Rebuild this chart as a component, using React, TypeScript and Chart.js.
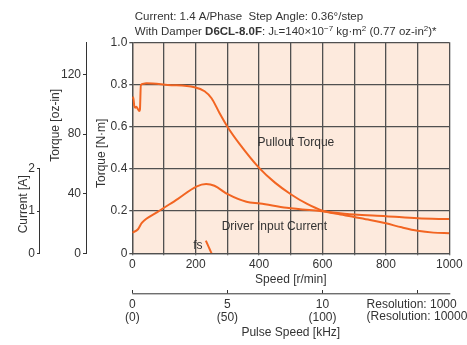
import React, { useEffect, useRef } from 'react';
import { Chart, registerables } from 'chart.js';

Chart.register(...registerables);

const FONT = "'Liberation Sans', Arial, sans-serif";
const TEXT = '#333333';
const GRID = '#505050';
const ORANGE = '#F26522';
const PEACH = '#FDEADD';

// Axis definitions
const speedMax = 1000;
const speedTickStep = 100;
const speedLabelStep = 200;
const torqueNmMax = 1.0;
const torqueNmStep = 0.2;
const ozPerNm = 141.612;
const torqueOzTicks = [0, 40, 80, 120];
const currentAxisMax = 5; // 2 A aligns with 0.4 N·m
const currentTicks = [0, 1, 2];
const pulseMax = 1000 / 60;
const pulseTicks = [0, 5, 10, 15];
const pulseLabels = [['0', '(0)'], ['5', '(50)'], ['10', '(100)'], ['', '']];
const resolutionNote = ['Resolution: 1000', '(Resolution: 10000)'];

// Series: Pullout Torque [N·m] vs speed [r/min]
const pulloutSpeed = [0, 3, 6, 9, 13, 17, 22, 24, 27, 35, 45, 112, 196, 228, 250, 275, 300, 340, 400, 450, 500, 550, 600, 650, 700, 750, 800, 850, 900, 950, 1000];
const pulloutTorque = [0.73, 0.74, 0.70, 0.69, 0.695, 0.685, 0.675, 0.68, 0.797, 0.803, 0.806, 0.798, 0.787, 0.768, 0.735, 0.665, 0.60, 0.515, 0.405, 0.335, 0.28, 0.235, 0.202, 0.186, 0.172, 0.158, 0.142, 0.123, 0.107, 0.098, 0.095];

// Series: Driver Input Current [A] vs speed [r/min]
const currentSpeed = [0, 18, 30, 80, 144, 202, 233, 259, 301, 360, 403, 487, 592, 700, 800, 900, 1000];
const currentAmps = [0.49, 0.57, 0.72, 0.98, 1.29, 1.58, 1.64, 1.60, 1.40, 1.22, 1.18, 1.08, 1.0, 0.92, 0.88, 0.83, 0.81];

// fs marker
const fsSpeed = [232, 250];
const fsTorque = [0.06, 0];

const titleLine1 = 'Current: 1.4 A/Phase  Step Angle: 0.36°/step';

function pts(xs: number[], ys: number[]) {
  return xs.map((x, i) => ({ x, y: ys[i] }));
}

const bgPlugin = {
  id: 'bg',
  beforeDraw(chart: any) {
    const { ctx, chartArea } = chart;
    ctx.save();
    ctx.fillStyle = PEACH;
    ctx.fillRect(chartArea.left, chartArea.top, chartArea.right - chartArea.left, chartArea.bottom - chartArea.top);
    ctx.restore();
  },
};

function drawSegments(ctx: CanvasRenderingContext2D, x: number, y: number, segs: { t: string; f: string; dy?: number }[]) {
  let cx = x;
  for (const s of segs) {
    ctx.font = s.f;
    ctx.fillText(s.t, cx, y + (s.dy || 0));
    cx += ctx.measureText(s.t).width;
  }
}

function rotText(ctx: CanvasRenderingContext2D, text: string, cx: number, cy: number) {
  ctx.save();
  ctx.translate(cx, cy);
  ctx.rotate(-Math.PI / 2);
  ctx.textAlign = 'center';
  ctx.textBaseline = 'middle';
  ctx.fillText(text, 0, 0);
  ctx.restore();
}

const textPlugin = {
  id: 'texts',
  afterDraw(chart: any) {
    const { ctx, chartArea, scales } = chart;
    const { x, y, ycur, yoz, xp } = scales;
    ctx.save();
    ctx.fillStyle = TEXT;
    ctx.textBaseline = 'alphabetic';
    ctx.textAlign = 'left';
    const reg = `11.5px ${FONT}`;
    const small = `8px ${FONT}`;
    ctx.font = reg;
    ctx.fillText(titleLine1, chartArea.left + 2.5, 20);
    drawSegments(ctx, chartArea.left + 2.5, 35, [
      { t: 'With Damper ', f: reg },
      { t: 'D6CL-8.0F', f: `bold 11.5px ${FONT}` },
      { t: ': J', f: reg },
      { t: 'L', f: small },
      { t: '=140×10', f: reg },
      { t: '−7', f: small, dy: -4.5 },
      { t: ' kg·m', f: reg },
      { t: '2', f: small, dy: -4.5 },
      { t: ' (0.77 oz-in', f: reg },
      { t: '2', f: small, dy: -4.5 },
      { t: ')*', f: reg },
    ]);

    // curve annotations
    ctx.font = `12px ${FONT}`;
    ctx.textBaseline = 'middle';
    ctx.fillText('Pullout Torque', x.getPixelForValue(395), y.getPixelForValue(0.526));
    ctx.fillText('Driver Input Current', x.getPixelForValue(282), y.getPixelForValue(0.125));
    ctx.fillText('fs', x.getPixelForValue(192), y.getPixelForValue(0.035));

    // rotated axis titles
    rotText(ctx, 'Torque [N·m]', y.left + 16, chartArea.top + 111);
    rotText(ctx, 'Torque [oz-in]', yoz.left + 16, chartArea.top + 83);
    rotText(ctx, 'Current [A]', ycur.left + 24, chartArea.top + 162);

    // current axis line (0 to 2 A)
    ctx.strokeStyle = TEXT;
    ctx.lineWidth = 1;
    ctx.beginPath();
    ctx.moveTo(ycur.right - 0.5, ycur.getPixelForValue(0));
    ctx.lineTo(ycur.right - 0.5, ycur.getPixelForValue(currentTicks[currentTicks.length - 1]));
    ctx.stroke();

    // pulse axis line
    const ly = xp.top + 3.5;
    ctx.beginPath();
    ctx.moveTo(chartArea.left, ly);
    ctx.lineTo(chartArea.right + 1, ly);
    ctx.stroke();

    // resolution note
    ctx.textAlign = 'left';
    ctx.font = `12px ${FONT}`;
    const rx = xp.getPixelForValue(pulseTicks[3]) - 51;
    ctx.fillText(resolutionNote[0], rx, xp.top + 14);
    ctx.fillText(resolutionNote[1], rx, xp.top + 26.5);
    ctx.restore();
  },
};

const tickFont = { family: FONT, size: 12 };

export default function App() {
  const ref = useRef<HTMLCanvasElement>(null);
  useEffect(() => {
    const chart = new Chart(ref.current as HTMLCanvasElement, {
      type: 'line',
      data: {
        datasets: [
          {
            label: 'Pullout Torque',
            data: pts(pulloutSpeed, pulloutTorque),
            xAxisID: 'x',
            yAxisID: 'y',
            borderColor: ORANGE,
            borderWidth: 2,
            pointRadius: 0,
            cubicInterpolationMode: 'monotone',
            fill: false,
          },
          {
            label: 'Driver Input Current',
            data: pts(currentSpeed, currentAmps),
            xAxisID: 'x',
            yAxisID: 'ycur',
            borderColor: ORANGE,
            borderWidth: 2,
            pointRadius: 0,
            cubicInterpolationMode: 'monotone',
            fill: false,
          },
          {
            label: 'fs',
            data: pts(fsSpeed, fsTorque),
            xAxisID: 'x',
            yAxisID: 'y',
            borderColor: ORANGE,
            borderWidth: 2,
            pointRadius: 0,
            fill: false,
          },
        ],
      } as any,
      options: {
        responsive: false,
        animation: false,
        devicePixelRatio: 1,
        layout: { padding: { left: 0, top: 42.3, right: 17.7, bottom: 0 } },
        plugins: { legend: { display: false }, tooltip: { enabled: false }, title: { display: false } },
        scales: {
          x: {
            type: 'linear',
            position: 'bottom',
            weight: 0,
            min: 0,
            max: speedMax,
            ticks: {
              stepSize: speedTickStep,
              autoSkip: false,
              maxRotation: 0,
              padding: 2,
              color: TEXT,
              font: tickFont,
              callback: (v: any) => (Math.round(v) % speedLabelStep === 0 ? String(Math.round(v)) : ''),
            },
            grid: { color: GRID, lineWidth: 1.3, drawTicks: true, tickLength: 2 },
            border: { display: true, color: GRID, width: 1.3 },
            title: { display: true, text: 'Speed [r/min]', color: TEXT, font: tickFont, padding: { top: 0, bottom: 3 } },
            afterFit: (s: any) => { s.height = 37; },
          },
          xp: {
            type: 'linear',
            position: 'bottom',
            weight: 1,
            min: 0,
            max: pulseMax,
            afterBuildTicks: (s: any) => { s.ticks = pulseTicks.map((v) => ({ value: v })); },
            ticks: {
              autoSkip: false,
              maxRotation: 0,
              padding: 5,
              color: TEXT,
              font: { family: FONT, size: 12, lineHeight: 1.05 },
              callback: (_v: any, i: number) => pulseLabels[i],
            },
            grid: { drawOnChartArea: false, drawTicks: true, tickLength: 3, color: TEXT, lineWidth: 1 },
            border: { display: false },
            title: { display: true, text: 'Pulse Speed [kHz]', color: TEXT, font: tickFont, padding: { top: 0, bottom: 5 } },
            afterFit: (s: any) => { s.height = 345 - 290.3; },
          },
          y: {
            type: 'linear',
            position: 'left',
            weight: 0,
            min: 0,
            max: torqueNmMax,
            ticks: {
              stepSize: torqueNmStep,
              padding: 2,
              color: TEXT,
              font: tickFont,
              callback: (v: any) => (v === 0 ? '0' : Number(v).toFixed(1)),
            },
            grid: { color: GRID, lineWidth: 1.3, drawTicks: true, tickLength: 3 },
            border: { display: true, color: GRID, width: 1.3 },
            afterFit: (s: any) => { s.width = 46.3; },
          },
          yoz: {
            type: 'linear',
            position: 'left',
            weight: 1,
            min: 0,
            max: torqueNmMax * ozPerNm,
            afterBuildTicks: (s: any) => { s.ticks = torqueOzTicks.map((v) => ({ value: v })); },
            ticks: { padding: 2, color: TEXT, font: tickFont },
            grid: { drawOnChartArea: false, drawTicks: true, tickLength: 3, color: TEXT, lineWidth: 1 },
            border: { display: true, color: TEXT, width: 1 },
            afterFit: (s: any) => { s.width = 46; },
          },
          ycur: {
            type: 'linear',
            position: 'left',
            weight: 2,
            min: 0,
            max: currentAxisMax,
            afterBuildTicks: (s: any) => { s.ticks = currentTicks.map((v) => ({ value: v })); },
            ticks: { padding: 2, color: TEXT, font: tickFont },
            grid: { drawOnChartArea: false, drawTicks: true, tickLength: 3, color: TEXT, lineWidth: 1 },
            border: { display: false },
            afterFit: (s: any) => { s.width = 40; },
          },
        },
      } as any,
      plugins: [bgPlugin, textPlugin],
    });
    return () => chart.destroy();
  }, []);
  return (
    <div style={{ position: 'absolute', left: 0, top: 0, width: 467, height: 345 }}>
      <canvas ref={ref} width={467} height={345} style={{ display: 'block', width: 467, height: 345 }} />
    </div>
  );
}
